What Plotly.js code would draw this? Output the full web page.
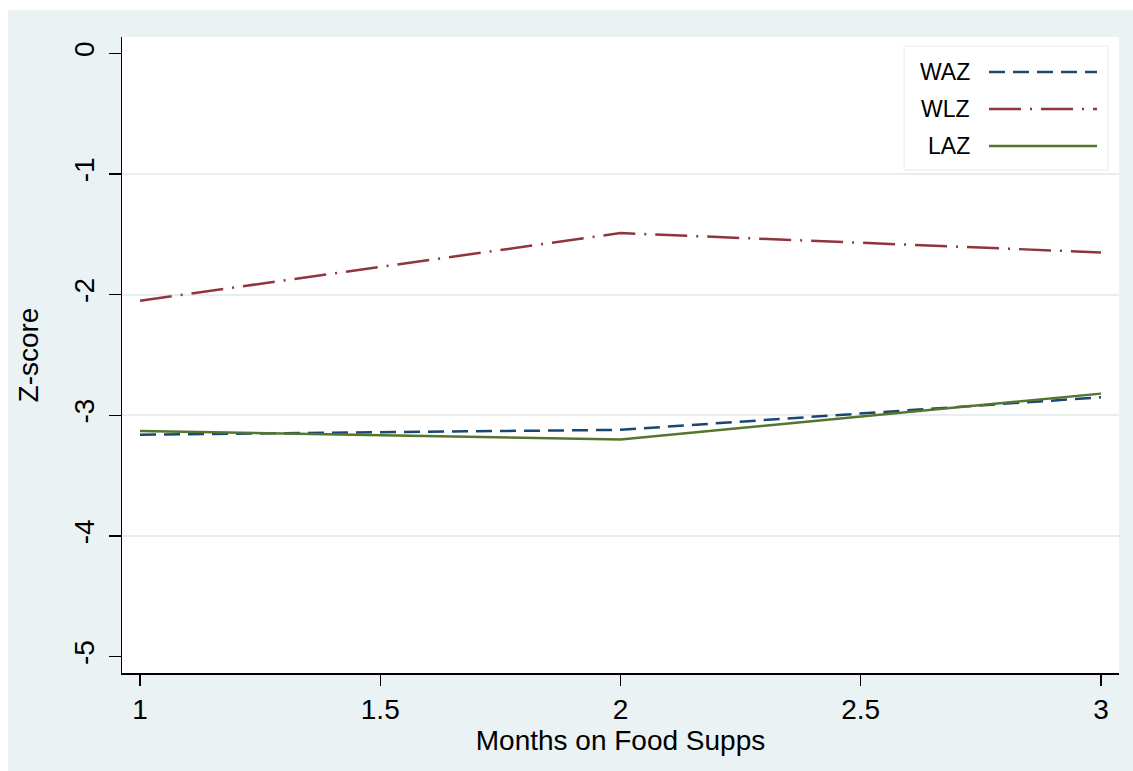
<!DOCTYPE html>
<html><head><meta charset="utf-8">
<script src="https://cdn.plot.ly/plotly-3.0.1.min.js"></script>
<style>html,body{margin:0;padding:0;background:#fff;}#chart{position:absolute;left:8px;top:10px;width:1125px;height:761px;}</style>
</head><body><div id="chart"></div>
<script>
const months = [1, 2, 3];
const waz = [-3.16, -3.12, -2.85];
const wlz = [-2.05, -1.49, -1.65];
const laz = [-3.13, -3.20, -2.82];
const seriesNames = ['WAZ', 'WLZ', 'LAZ'];
const xTicks = [1, 1.5, 2, 2.5, 3];
const yTicks = [0, -1, -2, -3, -4, -5];
const gridTicks = [-1, -2, -3, -4];

const colors = ['#1a476f', '#90353b', '#55752f'];
const vals = [waz, wlz, laz];
const dashList = ['16px,8px', '32px,9px,2px,9px', 'solid'];

const traces = vals.map((v, i) => ({
  x: months, y: v, type: 'scatter', mode: 'lines', name: seriesNames[i],
  line: {color: colors[i], width: 2.5, dash: dashList[i]},
  showlegend: false, hoverinfo: 'skip'
}));

const font = {family: 'Liberation Sans, Arial, sans-serif', color: '#000'};
const shapes = [];
const annotations = [];
const W = 1125 - 114 - 14, H = 761 - 27 - 98;
function px(xp) { return (xp - 8 - 114) / W; }
function py(yp) { return 1 - (yp - 10 - 27) / H; }
shapes.push({type: 'rect', xref: 'paper', yref: 'paper', x0: px(904), x1: px(1108), y0: py(170), y1: py(46),
  line: {color: '#e3ecee', width: 1}, fillcolor: '#ffffff', layer: 'above'});
const legY = [72, 109, 146];
seriesNames.forEach((n, i) => {
  shapes.push({type: 'line', xref: 'paper', yref: 'paper', x0: px(989), x1: px(1097), y0: py(legY[i]), y1: py(legY[i]),
    line: {color: colors[i], width: 2.5, dash: dashList[i]}, layer: 'above'});
  annotations.push({xref: 'paper', yref: 'paper', x: px(972), y: py(legY[i]), xanchor: 'right', yanchor: 'middle',
    text: n, showarrow: false, font: Object.assign({}, font, {size: 23})});
});

const layout = {
  width: 1125, height: 761,
  paper_bgcolor: '#eaf2f3', plot_bgcolor: '#ffffff',
  margin: {l: 114, r: 14, t: 27, b: 98},
  showlegend: false,
  font: font,
  xaxis: {
    range: [0.9625, 3.0375], tickvals: xTicks, ticktext: xTicks.map(String),
    showgrid: false, zeroline: false, showline: true, linecolor: '#000', linewidth: 1.5,
    ticks: 'outside', ticklen: 11, tickcolor: '#000', tickwidth: 1.5,
    tickfont: Object.assign({}, font, {size: 28}),
    title: {text: 'Months on Food Supps', font: Object.assign({}, font, {size: 28}), standoff: 0}
  },
  yaxis: {
    range: [-5.135, 0.135], tickvals: yTicks, ticktext: yTicks.map(String), tickangle: -90,
    showgrid: false, zeroline: false, showline: true, linecolor: '#000', linewidth: 1.5,
    ticks: 'outside', ticklen: 12, tickcolor: '#000', tickwidth: 1.5, ticklabelstandoff: 3,
    tickfont: Object.assign({}, font, {size: 28}),
    title: {text: 'Z-score', font: Object.assign({}, font, {size: 28}), standoff: 22}
  },
  yaxis2: {
    overlaying: 'y', matches: 'y', range: [-5.135, 0.135], tickvals: gridTicks,
    showticklabels: false, showgrid: true, gridcolor: '#e6eef0', gridwidth: 2, zeroline: false, ticks: ''
  },
  shapes: shapes, annotations: annotations
};

const gridTrace = {x: [], y: [], yaxis: 'y2', type: 'scatter', showlegend: false};
Plotly.newPlot('chart', [gridTrace].concat(traces), layout, {displayModeBar: false, staticPlot: true});
</script></body></html>
